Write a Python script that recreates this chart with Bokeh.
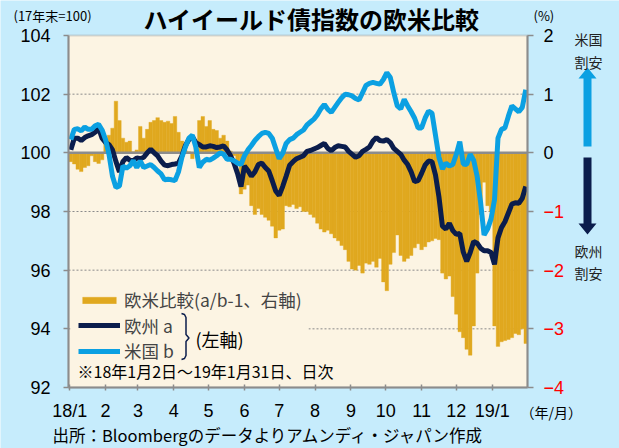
import pandas as pd
from bokeh.plotting import figure
from bokeh.models import (Range1d, LinearAxis, FixedTicker, Label, Legend,
                          LegendItem, BoxAnnotation)
from bokeh.embed import file_html
from bokeh.resources import INLINE

# ---------------- data ----------------
dates = pd.date_range("2018-01-02", "2019-01-31", freq="3D")
days = [int(d) for d in (dates - pd.Timestamp("2018-01-01")).days]

europe = [100.1, 100.5, 100.5, 100.42, 100.52, 100.58, 100.62, 100.7, 100.85, 100.5,
          100.35, 100.28, 100.1, 99.7, 99.35, 99.7, 99.84, 99.75, 99.73, 99.83,
          99.8, 99.85, 100.0, 100.12, 100.0, 99.9, 99.72, 99.58, 99.56, 99.6,
          99.62, 99.65, 99.9, 100.25, 100.45, 100.55, 100.35, 100.28, 100.2, 100.2,
          100.24, 100.22, 100.18, 100.2, 100.24, 100.1, 99.9, 99.65, 99.3, 98.85,
          99.55, 99.4, 99.2, 99.35, 99.6, 99.65, 99.5, 99.38, 99.05, 98.7,
          98.55, 98.85, 99.2, 99.58, 99.7, 99.8, 99.85, 99.9, 100.05, 100.08,
          100.13, 100.18, 100.25, 100.32, 100.15, 100.07, 100.18, 100.24, 100.22, 100.2,
          100.05, 99.95, 99.85, 99.9, 100.05, 100.12, 100.2, 100.4, 100.52, 100.42,
          100.4, 100.45, 100.35, 100.15, 100.05, 99.95, 99.75, 99.6, 99.35, 99.02,
          99.05, 99.3, 99.58, 99.72, 99.7, 99.25, 98.5, 97.5, 97.4, 97.6,
          97.35, 97.22, 97.25, 96.62, 96.3, 96.6, 96.98, 96.92, 96.75, 96.66,
          96.66, 96.6, 96.2, 97.1, 97.45, 97.65, 97.95, 98.25, 98.3, 98.28,
          98.45, 98.85]

us = [100.45, 100.8, 100.82, 100.75, 100.88, 100.8, 100.8, 100.92, 100.97, 100.78,
      100.45, 99.95, 99.2, 98.82, 98.87, 99.55, 99.48, 99.56, 99.73, 99.5,
      99.72, 99.5, 99.55, 99.6, 99.5, 99.38, 99.28, 99.08, 99.1, 99.08,
      99.05, 99.35, 99.85, 100.2, 100.5, 100.6, 100.2, 99.5, 99.68, 99.78,
      99.75, 99.82, 99.9, 100.0, 99.95, 99.78, 99.78, 99.73, 99.65, 99.6,
      99.9, 100.1, 100.25, 100.42, 100.55, 100.66, 100.7, 100.66, 100.5, 100.15,
      99.8, 99.98, 100.32, 100.45, 100.5, 100.62, 100.7, 100.78, 100.95, 101.05,
      101.15, 101.3, 101.5, 101.65, 101.48, 101.38, 101.55, 101.72, 101.88, 102.0,
      101.98, 101.94, 101.85, 101.8, 102.05, 102.3, 102.37, 102.4, 102.37, 102.34,
      102.5, 102.73, 102.57, 102.05, 101.6, 101.5, 101.82, 101.6, 101.4, 101.18,
      100.85, 100.85, 101.18, 101.42, 101.35, 100.6, 99.85, 99.45, 99.65, 99.55,
      99.6, 99.95, 100.38, 99.62, 99.6, 99.95, 99.75, 99.2, 98.3, 97.2,
      97.4, 97.75, 98.4, 100.5, 100.8, 100.85, 101.25, 101.6, 101.5, 101.4,
      101.55, 102.15]

ratio = [-0.15, -0.19, -0.28, -0.32, -0.25, -0.22, -0.05, -0.15, -0.18, -0.12,
         0.15, 0.3, 0.42, 0.88, 0.55, 0.25, 0.18, 0.2, 0.02, 0.05,
         0.45, 0.25, 0.4, 0.52, 0.55, 0.6, 0.55, 0.52, 0.54, 0.5,
         0.62, 0.35, 0.2, 0.04, 0.02, -0.1, 0.1, 0.55, 0.62, 0.45,
         0.55, 0.4, 0.38, 0.25, 0.3, 0.2, 0.03, -0.05, -0.2, -0.7,
         -0.62, -0.55, -0.9, -1.05, -0.95, -1.05, -1.1, -1.15, -1.25, -1.45,
         -1.32, -1.3, -0.9, -0.92, -0.88, -0.95, -0.92, -1.0, -1.0, -1.05,
         -1.1, -1.2, -1.3, -1.35, -1.32, -1.38, -1.45, -1.5, -1.58, -1.65,
         -1.85, -1.98, -2.0, -1.92, -2.05, -1.88, -1.9, -1.85, -1.95, -1.8,
         -2.2, -2.35, -1.9, -1.7, -1.4, -1.75, -1.85, -1.8, -1.75, -1.62,
         -1.55, -1.65, -1.6, -1.52, -1.5, -1.46, -1.48, -2.05, -2.15, -2.1,
         -2.45, -2.75, -3.05, -3.15, -3.35, -3.45, -2.95, -2.05, -1.05, -0.5,
         -0.9, -1.0, -2.95, -3.3, -3.22, -3.2, -3.18, -3.15, -3.08, -3.1,
         -3.0, -3.25]

month_days = [0, 31, 59, 90, 120, 151, 181, 212, 243, 273, 304, 334, 365]
month_labels = ["18/1", "2", "3", "4", "5", "6", "7", "8", "9", "10", "11", "12", "19/1"]
left_ticks = [92, 94, 96, 98, 100, 102, 104]
left_grid = [94, 96, 98, 102]
right_ticks = [-4, -3, -2, -1, 0, 1, 2]
black_right = [0, 1, 2]
base_level = [100]

# ---------------- style / layout ----------------
GOLD = "#E0A81F"
NAVY = "#0B1D4C"
BLUE = "#0BA0E2"
CREAM = "#FCF4E3"
SKY = "#C6ECFC"
GREY = "#8C8C8C"
JP = "Noto Sans CJK JP"
NUM = "Liberation Sans"

W, H = 619, 448
X0, X1 = -1, 395.5          # day range of the plotting area
YL0, YL1 = 92, 104          # left axis range
YR0, YR1 = -4, 2            # right axis range
FL, FR, FT, FB = 68, 527, 35, 387   # plotting-area edges in pixels


def xd(px):
    return X0 + (px - FL) * (X1 - X0) / (FR - FL)


def yl(py):
    return YL1 - (py - FT) * (YL1 - YL0) / (FB - FT)


def yr(py):
    return YR1 - (py - FT) * (YR1 - YR0) / (FB - FT)


p = figure(width=W, height=H, output_backend="svg", toolbar_location=None,
           title=None, x_axis_type=None, y_axis_type=None,
           x_range=Range1d(xd(0), xd(W)), y_range=Range1d(yl(H), yl(0)),
           min_border=0, min_border_left=0, min_border_right=0,
           min_border_top=0, min_border_bottom=0,
           background_fill_color=SKY, border_fill_color=SKY)
p.outline_line_color = None
p.extra_y_ranges = {"pct": Range1d(yr(H), yr(0))}

# plotting area background + frame
p.add_layout(BoxAnnotation(left=X0, right=X1, bottom=YL0, top=YL1,
                           fill_color=CREAM, fill_alpha=1, line_color=GREY,
                           line_width=2, level="underlay"))


def style_axis(ax):
    ax.axis_line_color = GREY
    ax.axis_line_width = 2
    ax.major_tick_line_color = GREY
    ax.major_tick_line_width = 1.5
    ax.minor_tick_line_color = None
    ax.major_label_text_font = NUM
    ax.major_label_text_font_size = "18px"
    ax.major_label_text_color = "black"


xa = LinearAxis(fixed_location=YL0, bounds=(X0, X1),
                ticker=FixedTicker(ticks=month_days),
                major_label_overrides={d: l for d, l in zip(month_days, month_labels)})
style_axis(xa)
xa.major_tick_in = 3
xa.major_tick_out = 3
xa.major_label_standoff = 10
p.add_layout(xa, "below")

ya = LinearAxis(fixed_location=X0, bounds=(YL0, YL1), ticker=FixedTicker(ticks=left_ticks))
style_axis(ya)
ya.major_tick_in = 0
ya.major_tick_out = 5
ya.major_label_standoff = 13
p.add_layout(ya, "left")

ra = LinearAxis(y_range_name="pct", fixed_location=X1, bounds=(YR0, YR1),
                ticker=FixedTicker(ticks=right_ticks),
                major_label_overrides={t: "" for t in black_right})
style_axis(ra)
ra.major_tick_in = 0
ra.major_tick_out = 6
ra.major_label_standoff = 10
ra.major_label_text_color = "#FF0000"
p.add_layout(ra, "right")

# dotted grid lines across the plotting area
p.segment(x0=[X0] * len(left_grid), x1=[X1] * len(left_grid), y0=left_grid, y1=left_grid,
          line_color="#8a8a8a", line_dash="2 2", line_width=1)

# marks
bars = p.vbar(x=days, width=3.05, top=ratio, bottom=0, y_range_name="pct",
              fill_color=GOLD, line_color=GOLD, line_width=0.4)
p.segment(x0=[X0], x1=[X1], y0=base_level, y1=base_level, line_color=GREY, line_width=2.5)
l_eu = p.line(days, europe, line_color=NAVY, line_width=5)
l_us = p.line(days, us, line_color=BLUE, line_width=5)

# legend block: cream backing, then one legend row per series
p.add_layout(BoxAnnotation(left=xd(70), right=xd(308), bottom=yl(380), top=yl(287),
                           fill_color=CREAM, fill_alpha=1, line_color=None))

rows = [("欧米比較(a/b-1、右軸)", bars, 299.5), ("欧州 a", l_eu, 325), ("米国 b", l_us, 350.5)]
for text, rend, cy in rows:
    p.add_layout(Legend(items=[LegendItem(label=text, renderers=[rend])],
                        location=(78, H - (cy + 12.7)), background_fill_alpha=0,
                        border_line_color=None, label_text_font=JP,
                        label_text_font_size="17.5px", glyph_width=42, glyph_height=8,
                        label_height=20, spacing=0, padding=0, label_standoff=4,
                        margin=0))

# brace for the left-axis note
bx = [xd(v) for v in (181, 184, 185.5, 185.5, 188.5, 185.5, 185.5, 184, 181)]
by = [yl(v) for v in (313, 314, 317, 334, 337.5, 341, 355, 358, 359)]
p.line(bx, by, line_color=NAVY, line_width=1.5, level="overlay")

# arrows on the right
def arrow(cx, tail, tip, shaft=8, head=18, head_len=11):
    d = 1 if tip > tail else -1
    base = tip - d * head_len
    xs = [cx - shaft / 2, cx - shaft / 2, cx - head / 2, cx, cx + head / 2, cx + shaft / 2, cx + shaft / 2]
    ys = [tail, base, base, tip, base, base, tail]
    return [xd(v) for v in xs], [yl(v) for v in ys]

a1 = arrow(587, 146, 67)
a2 = arrow(587, 157, 234)
p.patches(xs=[a1[0], a2[0]], ys=[a1[1], a2[1]], fill_color=[BLUE, NAVY], line_color=None)


def lab(px, py, text, size, align="left", bold=False, color="black", font=JP):
    p.add_layout(Label(x=xd(px), y=yl(py), text=text, text_align=align,
                       text_baseline="middle", text_font=font,
                       text_font_size=f"{size}px", text_color=color,
                       text_font_style="bold" if bold else "normal"))


lab(195, 338, "(左軸)", 18)
lab(77, 370, "※18年1月2日～19年1月31日、日次", 16)
lab(13, 15, "(17年末=100)", 13)
lab(143, 18, "ハイイールド債指数の欧米比較", 24, bold=True)
lab(533, 15, "(%)", 13)
lab(588, 38, "米国", 14, align="center", color="#222222")
lab(588, 61, "割安", 14, align="center", color="#222222")
lab(588, 250, "欧州", 14, align="center", color="#222222")
lab(588, 272, "割安", 14, align="center", color="#222222")
lab(520, 411, "（年/月）", 14)
lab(52, 434, "出所：Bloombergのデータよりアムンディ・ジャパン作成", 16.5)

for t in black_right:
    p.add_layout(Label(x=X1, y=t, y_range_name="pct", x_offset=16, text=str(t),
                       text_align="left", text_baseline="middle", text_font=NUM,
                       text_font_size="18px", text_color="black"))

open("out.html", "w").write(file_html(p, INLINE))
